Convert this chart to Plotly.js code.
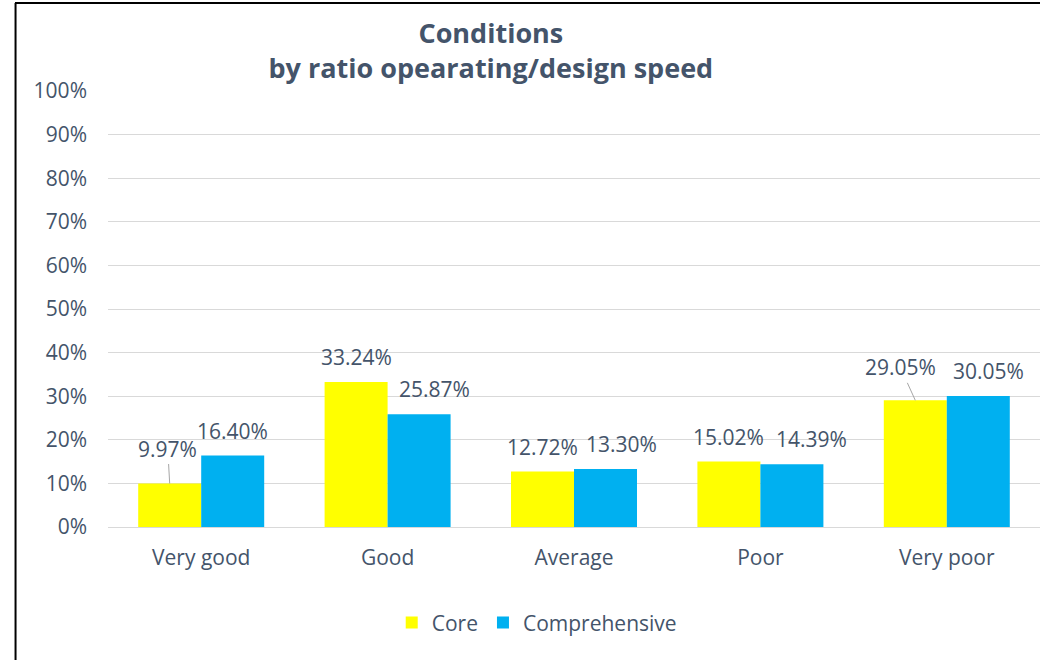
<!DOCTYPE html>
<html>
<head>
<meta charset="utf-8">
<script src="https://cdn.plot.ly/plotly-3.0.1.min.js"></script>
<style>
  html, body { margin: 0; padding: 0; background: #fff; }
  #chart { width: 1040px; height: 660px; }
</style>
</head>
<body>
<div id="chart"></div>
<script>
var categories = ['Very good', 'Good', 'Average', 'Poor', 'Very poor'];
var coreValues = [0.0997, 0.3324, 0.1272, 0.1502, 0.2905];
var comprehensiveValues = [0.1640, 0.2587, 0.1330, 0.1439, 0.3005];
var yTicks = [0, 0.1, 0.2, 0.3, 0.4, 0.5, 0.6, 0.7, 0.8, 0.9, 1];

var textColor = '#44546A';
var fontFamily = '"Open Sans", "Liberation Sans", sans-serif';
var fontSize = 21;

// how far each data label was nudged sideways (px) in the original
var coreNudge = [0, 0, 0, 0, 0];
var compNudge = [0, 15, 16, 20, 10];
// leader lines for the two core labels that sit off their bar
var coreLeader = { 0: { ax: -2, ay: -35 }, 4: { ax: -15, ay: -33 } };

var coreTrace = {
    name: 'Core',
    type: 'bar',
    x: categories,
    y: coreValues,
    offsetgroup: 'core',
    marker: { color: '#FFFF00' },
    hoverinfo: 'skip'
};

var comprehensiveTrace = {
    name: 'Comprehensive',
    type: 'bar',
    x: categories,
    y: comprehensiveValues,
    offsetgroup: 'comp',
    marker: { color: '#00B0F0' },
    hoverinfo: 'skip'
};

// half a bar width in pixels, used to put the labels over each bar
var halfBar = 31.5;

var fmt = function (v) {
    return (v * 100).toFixed(2) + '%';
};

var labelFont = { family: fontFamily, size: fontSize, color: textColor };

var annotations = [];
categories.forEach(function (cat, i) {
    var core = {
        x: cat, y: coreValues[i], xref: 'x', yref: 'y',
        text: fmt(coreValues[i]),
        font: labelFont,
        showarrow: false,
        xshift: -halfBar + coreNudge[i], yshift: 25,
        xanchor: 'center', yanchor: 'middle'
    };
    if (coreLeader[i]) {
        core.showarrow = true;
        core.arrowhead = 0;
        core.arrowwidth = 1;
        core.arrowcolor = '#A6A6A6';
        core.standoff = 0;
        core.yshift = 0;
        core.ax = coreLeader[i].ax;
        core.ay = coreLeader[i].ay;
    }
    annotations.push(core);
    annotations.push({
        x: cat, y: comprehensiveValues[i], xref: 'x', yref: 'y',
        text: fmt(comprehensiveValues[i]),
        font: labelFont,
        showarrow: false,
        xshift: halfBar + compNudge[i], yshift: 25,
        xanchor: 'center', yanchor: 'middle'
    });
});

var layout = {
    width: 1040,
    height: 660,
    margin: { l: 108, r: 0, t: 91, b: 133 },
    paper_bgcolor: '#FFFFFF',
    plot_bgcolor: '#FFFFFF',
    font: { family: fontFamily, size: fontSize, color: textColor },
    title: {
        text: '<b>Conditions</b><br><b>by ratio opearating/design speed</b>',
        font: { family: fontFamily, size: 27, color: textColor },
        xref: 'container', yref: 'container',
        x: 0.472, xanchor: 'center',
        y: 0.935, yanchor: 'middle'
    },
    barmode: 'group',
    bargap: 0.324,
    bargroupgap: 0,
    showlegend: true,
    legend: {
        orientation: 'h',
        x: 0.460, xanchor: 'center',
        y: -0.22, yanchor: 'middle',
        font: { family: fontFamily, size: fontSize, color: textColor },
        itemwidth: 30,
        traceorder: 'normal'
    },
    xaxis: {
        type: 'category',
        showgrid: false,
        showline: false,
        zeroline: false,
        ticks: '',
        ticklabelstandoff: 16,
        tickfont: { family: fontFamily, size: fontSize, color: textColor },
        fixedrange: true
    },
    yaxis: {
        range: [0, 1],
        tickvals: yTicks,
        tickformat: '.0%',
        showgrid: true,
        gridcolor: '#D9D9D9',
        gridwidth: 1,
        zeroline: true,
        zerolinecolor: '#D9D9D9',
        zerolinewidth: 1,
        showline: false,
        ticks: '',
        ticklabelstandoff: 20,
        tickfont: { family: fontFamily, size: fontSize, color: textColor },
        fixedrange: true
    },
    annotations: annotations,
    shapes: [
        {
            type: 'line', xref: 'paper', yref: 'paper',
            x0: -0.0998, x1: 1.0, y0: 1.2018, y1: 1.2018,
            line: { color: '#000000', width: 2 }
        },
        {
            type: 'line', xref: 'paper', yref: 'paper',
            x0: -0.0992, x1: -0.0992, y0: 1.2018, y1: -0.31,
            line: { color: '#000000', width: 2 }
        }
    ]
};

Plotly.newPlot('chart', [coreTrace, comprehensiveTrace], layout, { displayModeBar: false, staticPlot: true });
</script>
</body>
</html>
